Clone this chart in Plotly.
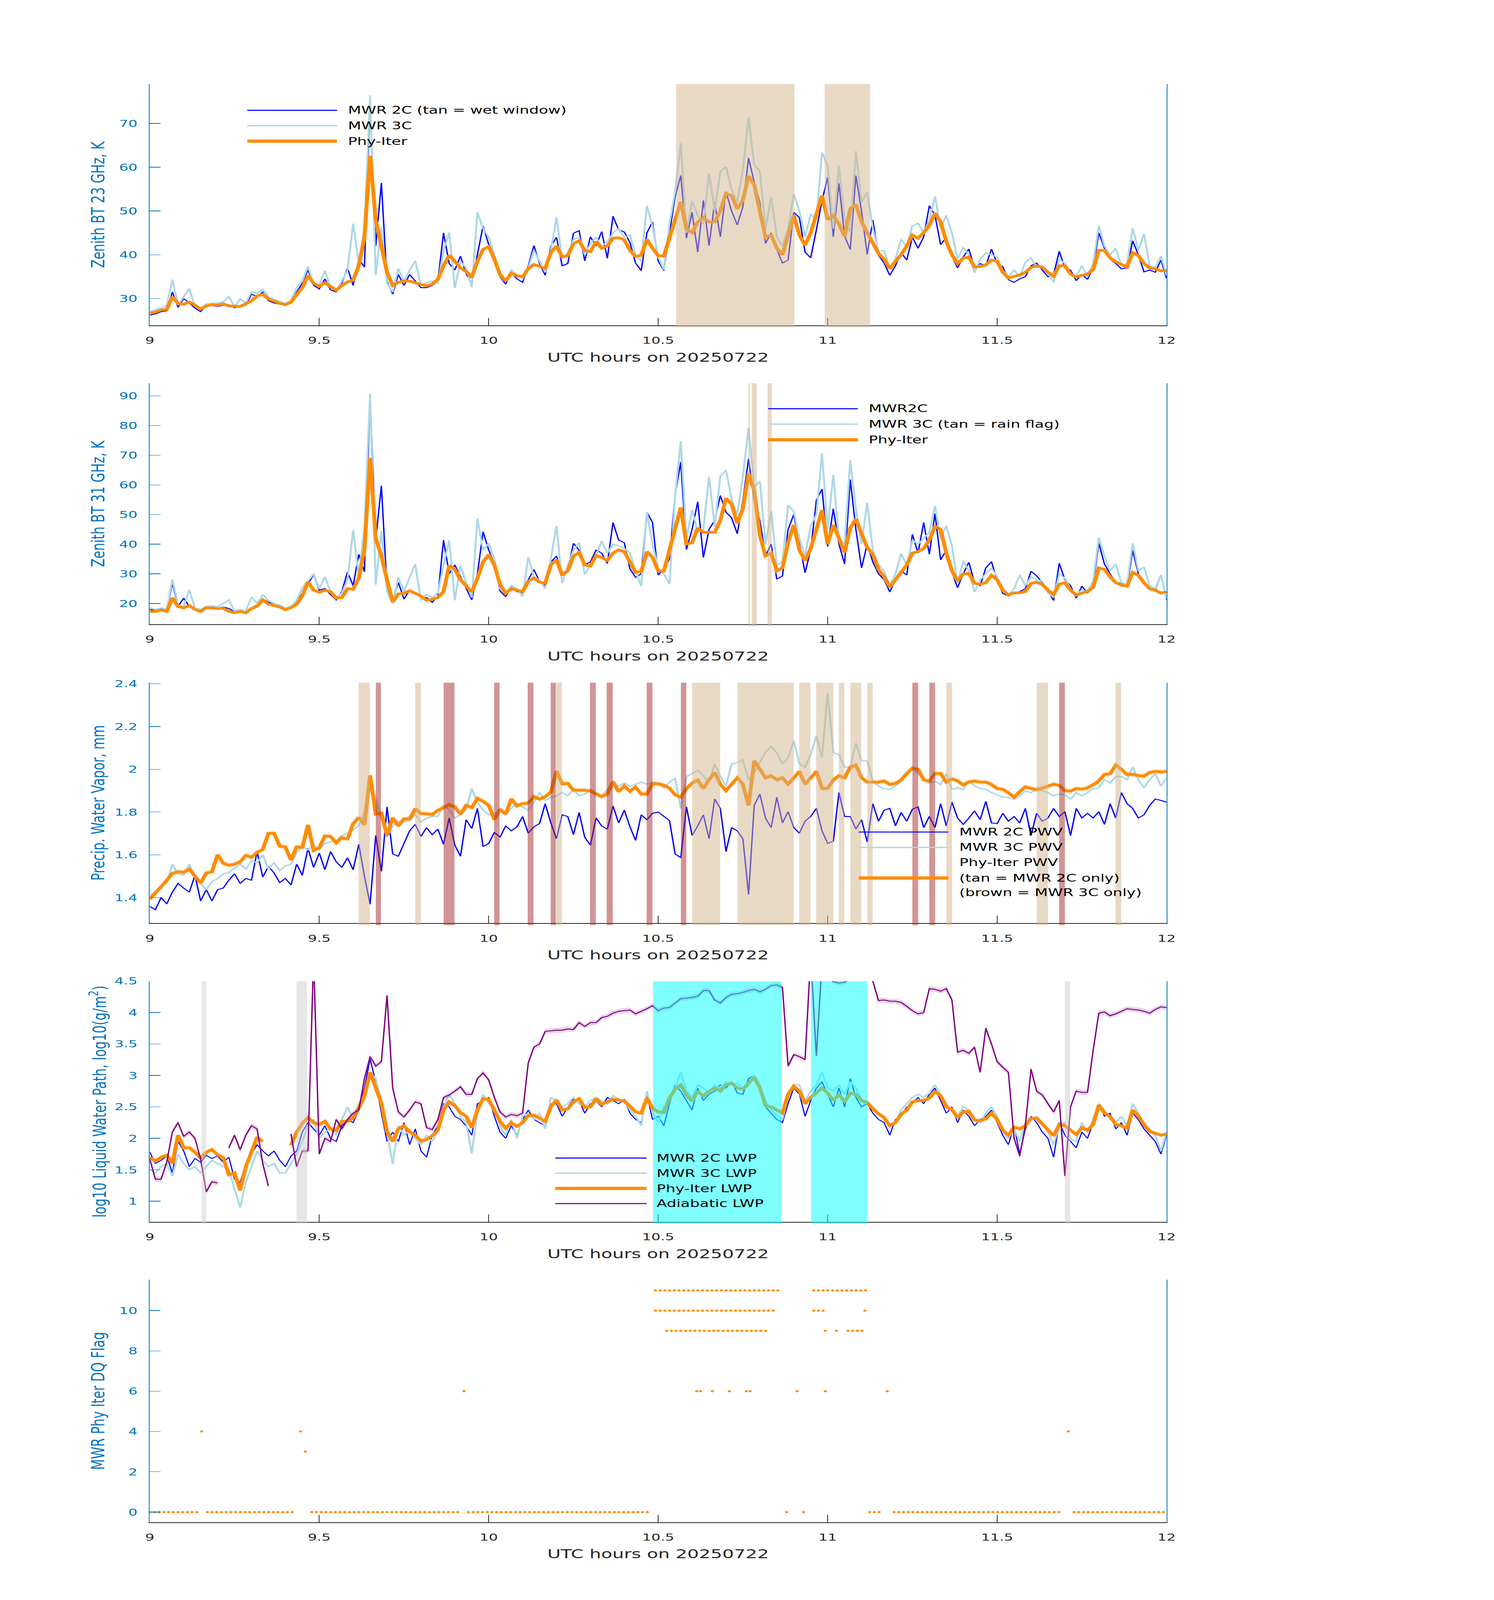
import numpy as np
import plotly.graph_objects as go

W, H = 3825, 6000
FONT = "DejaVu Sans"

# ---------------- time axis (1-minute samples, 09:00-12:00 UTC) ----------------
HOURS = 9 + np.arange(181) / 60.0

# ---------------- Panel 1: zenith BT 23 GHz (K) ----------------
BT23_2C = [26.2, 26.5, 27.0, 27.2, 31.5, 28.0, 30.0, 29.0, 27.8, 27.0,
           28.5, 28.4, 28.2, 28.5, 28.6, 27.9, 28.3, 28.5, 31.0, 30.5,
           31.5, 29.5, 29.0, 28.7, 28.4, 29.0, 31.5, 33.5, 36.6, 33.0,
           32.2, 34.5, 32.0, 31.5, 33.5, 37.0, 33.0, 39.0, 37.2, 75.2,
           42.0, 56.4, 34.0, 31.0, 35.5, 33.0, 35.5, 34.0, 32.5, 32.5,
           33.0, 34.0, 45.0, 38.0, 36.5, 39.7, 35.7, 33.5, 40.0, 46.6,
           42.3, 39.5, 35.0, 33.3, 36.0, 34.5, 33.7, 37.5, 42.1, 38.0,
           35.3, 42.0, 44.0, 37.5, 38.0, 44.9, 45.5, 38.6, 44.1, 42.0,
           45.3, 39.2, 48.8, 45.7, 45.2, 42.8, 38.1, 36.4, 45.0, 47.5,
           38.6, 36.4, 45.0, 53.3, 58.1, 43.8, 49.7, 40.6, 52.4, 42.1,
           51.9, 44.1, 54.4, 50.0, 46.8, 51.0, 62.1, 56.6, 52.0, 42.6,
           45.0, 41.2, 38.1, 38.8, 49.7, 48.5, 40.6, 39.3, 45.7, 52.3,
           57.7, 44.1, 56.3, 44.3, 41.2, 58.1, 50.0, 40.1, 47.9, 39.9,
           38.1, 35.3, 37.5, 40.5, 38.8, 44.0, 41.5, 44.1, 51.2, 49.0,
           42.3, 44.0, 39.7, 37.0, 39.5, 41.3, 37.0, 38.0, 37.5, 41.3,
           38.0, 37.3, 34.3, 33.7, 34.5, 35.0, 37.5, 38.1, 36.5, 35.0,
           35.5, 40.8, 37.0, 36.5, 34.1, 35.5, 34.4, 37.0, 45.0, 41.5,
           39.0, 38.0, 36.8, 37.0, 43.2, 40.0, 36.1, 36.5, 36.0, 38.8, 34.6]
BT23_3C = [27.0, 27.5, 27.8, 28.5, 34.3, 28.5, 30.4, 32.3, 28.2, 27.5,
           28.8, 28.9, 29.0, 29.2, 30.5, 28.1, 29.9, 29.0, 31.5, 31.2,
           32.1, 30.5, 29.8, 29.4, 28.8, 29.5, 32.5, 34.0, 37.3, 33.5,
           33.0, 36.4, 32.5, 31.8, 34.0, 36.5, 47.1, 38.0, 46.0, 76.4,
           35.3, 46.4, 33.5, 31.5, 36.8, 34.0, 36.5, 38.6, 33.0, 33.5,
           34.0, 33.5, 41.0, 45.1, 32.4, 38.5, 37.0, 32.6, 49.7, 46.0,
           44.0, 40.0, 35.5, 34.0, 36.5, 35.5, 34.5, 37.0, 41.0, 38.5,
           36.0, 41.0, 48.6, 39.0, 40.5, 43.5, 44.0, 40.0, 42.5, 44.0,
           42.0, 43.0, 45.0, 46.0, 44.0, 44.5, 40.0, 38.5, 51.2, 46.5,
           39.5, 36.6, 47.0, 54.4, 65.5, 45.0, 52.2, 49.0, 47.0, 58.6,
           50.0, 59.0, 60.1, 55.0, 52.0, 59.5, 71.3, 60.6, 59.0, 46.0,
           53.2, 44.0, 42.0, 46.0, 53.9, 50.0, 44.0, 49.3, 48.0, 63.3,
           60.3, 46.0, 60.3, 48.0, 45.0, 63.7, 52.0, 54.3, 46.0, 40.8,
           41.0, 37.0, 39.0, 43.5, 42.0, 46.6, 47.2, 45.0, 48.0, 53.3,
           46.0, 49.0, 45.0, 39.0, 41.7, 40.0, 35.9, 39.0, 40.4, 40.0,
           39.5, 36.5, 35.0, 36.5, 35.0, 38.3, 39.3, 37.0, 37.5, 36.0,
           33.7, 39.0, 38.0, 35.5, 35.0, 37.5, 35.0, 38.0, 46.6, 42.0,
           40.0, 41.5, 37.5, 38.0, 46.1, 41.0, 44.8, 37.5, 37.0, 39.7, 35.3]
BT23_PI = [26.7, 26.9, 27.4, 27.5, 30.4, 28.9, 28.7, 29.2, 28.5, 27.6,
           28.3, 28.6, 28.5, 28.8, 28.3, 28.2, 28.2, 28.8, 29.5, 30.6,
           31.0, 29.9, 29.4, 28.9, 28.6, 29.2, 30.9, 32.5, 35.2, 33.5,
           32.8, 33.6, 32.8, 31.9, 33.0, 33.8, 34.2, 37.5, 44.0, 62.6,
           48.0, 41.5, 36.0, 33.0, 33.7, 34.0, 34.0, 33.6, 33.2, 32.9,
           33.3, 34.4, 37.5, 39.9, 38.5, 37.0, 36.2, 34.8, 38.5, 41.2,
           41.9, 39.0, 35.5, 34.0, 35.8, 35.2, 35.0, 36.8, 37.8, 37.3,
           36.9, 40.5, 42.0, 39.5, 39.8, 42.5, 43.2, 41.0, 40.7, 43.0,
           41.5, 42.0, 43.8, 43.9, 43.4, 41.0, 39.6, 39.9, 43.5, 41.5,
           39.8, 39.7, 44.0, 48.0, 52.1, 46.0, 45.0, 47.5, 48.5, 47.5,
           47.5, 50.0, 54.0, 53.5, 50.5, 52.5, 58.0, 56.0, 49.5, 44.0,
           44.5, 41.5, 40.0, 44.5, 49.0, 44.5, 42.2, 45.0, 49.0, 53.5,
           48.0, 49.0, 47.0, 44.2, 50.5, 51.5, 47.5, 45.1, 42.5, 40.3,
           39.0, 36.8, 38.5, 40.0, 42.0, 44.5, 43.8, 45.0, 46.7, 49.5,
           47.5, 43.0, 40.0, 38.0, 39.2, 39.5, 37.2, 37.3, 37.7, 38.8,
           38.5, 36.0, 34.7, 35.0, 35.4, 36.0, 37.1, 37.5, 37.1, 36.0,
           35.1, 37.5, 37.5, 35.6, 34.9, 35.3, 35.6, 36.6, 41.0, 41.0,
           39.3, 38.4, 37.8, 37.2, 40.5, 39.8, 38.0, 37.0, 36.8, 36.3, 36.4]

# ---------------- Panel 2: zenith BT 31 GHz (K) ----------------
BT31_2C = [18.0, 17.8, 18.2, 17.6, 26.9, 19.0, 21.8, 19.0, 18.2, 17.8,
           18.5, 18.8, 18.5, 18.8, 18.3, 17.2, 17.5, 17.0, 18.5, 19.5,
           21.5, 20.5, 19.5, 19.0, 18.2, 18.8, 20.5, 23.5, 26.5, 29.7,
           24.5, 25.0, 23.0, 21.2, 24.0, 30.6, 26.0, 36.6, 30.7, 89.5,
           41.4, 59.7, 25.0, 21.0, 27.1, 21.5, 24.5, 23.5, 22.0, 22.0,
           20.4, 22.5, 41.4, 30.0, 33.0, 29.0, 25.0, 21.2, 30.0, 44.2,
           38.0, 33.5, 24.2, 22.3, 25.5, 24.0, 23.5, 28.0, 31.4, 27.5,
           26.0, 34.0, 36.0, 30.0, 31.5, 40.3, 38.0, 33.0, 34.0, 38.0,
           37.0, 33.5, 47.3, 41.4, 40.5, 31.7, 28.8, 30.0, 50.8, 47.3,
           29.6, 31.7, 35.0, 56.7, 67.7, 38.2, 45.0, 54.3, 35.5, 45.0,
           48.0, 56.4, 50.8, 48.9, 43.5, 55.0, 68.8, 54.3, 48.0, 36.0,
           40.0, 28.2, 29.3, 45.0, 50.0, 40.0, 30.4, 38.0, 54.8, 58.6,
           39.2, 52.0, 40.0, 33.3, 61.8, 45.0, 32.0, 40.0, 34.0, 30.0,
           28.0, 23.9, 28.0, 31.0, 29.6, 43.3, 37.0, 47.3, 36.6, 50.3,
           34.7, 38.0, 30.6, 25.3, 30.0, 33.9, 27.0, 26.0, 32.0, 34.1,
           27.7, 23.4, 22.5, 23.5, 24.0, 25.0, 30.9, 29.3, 27.0, 24.0,
           21.0, 33.6, 28.0, 26.0, 21.8, 25.8, 23.5, 26.0, 40.3, 33.3,
           30.0, 27.0, 26.9, 25.5, 37.9, 30.0, 27.5, 25.0, 24.5, 29.6, 21.2]
BT31_3C = [18.5, 18.0, 18.5, 18.0, 28.2, 19.5, 19.0, 24.6, 18.5, 18.0,
           19.0, 19.2, 19.0, 20.0, 21.2, 17.5, 18.0, 17.5, 22.1, 20.0,
           23.0, 21.0, 20.0, 19.5, 18.5, 19.0, 21.0, 25.2, 27.5, 30.0,
           25.0, 29.0, 24.0, 22.0, 23.5, 28.0, 44.8, 29.0, 46.0, 90.8,
           26.3, 44.3, 24.0, 19.9, 28.8, 24.0, 28.8, 33.3, 21.0, 23.0,
           22.0, 23.5, 33.0, 41.3, 21.1, 32.8, 27.0, 22.0, 48.7, 38.0,
           40.3, 35.0, 25.0, 23.0, 26.0, 25.0, 22.3, 35.7, 29.0, 28.0,
           25.0, 35.0, 46.2, 26.9, 33.0, 38.0, 40.6, 29.8, 33.0, 36.0,
           41.1, 37.0, 40.0, 39.5, 38.5, 37.0, 31.0, 25.8, 50.8, 40.0,
           32.0, 30.0, 26.6, 56.4, 74.7, 42.0, 51.6, 44.0, 45.0, 62.8,
           46.0, 62.9, 65.0, 55.0, 50.0, 62.9, 79.3, 59.1, 61.3, 40.0,
           51.1, 33.0, 34.0, 53.2, 51.0, 42.0, 36.0, 46.2, 50.0, 70.7,
           45.0, 63.4, 42.0, 40.0, 68.3, 52.0, 40.0, 54.0, 38.0, 33.0,
           31.0, 26.0, 30.0, 36.8, 33.0, 41.4, 40.0, 42.0, 44.0, 52.9,
           42.0, 46.2, 39.5, 27.0, 34.4, 31.0, 23.9, 28.0, 30.0, 32.0,
           29.0, 24.0, 23.0, 25.0, 29.6, 26.0, 29.0, 28.0, 27.5, 23.5,
           22.0, 30.0, 28.5, 25.0, 23.0, 24.5, 24.0, 27.5, 42.2, 36.0,
           31.0, 33.3, 27.0, 26.5, 40.3, 31.0, 32.3, 26.0, 25.0, 29.6, 21.5]
BT31_PI = [17.3, 17.3, 17.8, 17.3, 21.9, 19.0, 18.5, 19.3, 18.0, 17.3,
           18.6, 18.4, 18.3, 18.4, 17.3, 16.9, 17.3, 16.8, 18.3, 19.0,
           21.2, 19.8, 19.2, 18.8, 17.9, 18.6, 19.8, 22.5, 27.3, 24.5,
           23.8, 24.4, 24.0, 21.8, 22.0, 25.0, 24.8, 28.5, 38.0, 69.1,
           42.0, 36.0, 28.0, 20.5, 23.2, 23.4, 24.3, 23.5, 22.5, 21.1,
           21.4, 22.0, 24.0, 32.8, 31.5, 28.0, 26.0, 23.9, 28.5, 34.0,
           36.5, 33.0, 26.5, 23.4, 25.0, 24.5, 24.0, 27.5, 28.6, 27.2,
           26.8, 33.0, 34.8, 29.5, 31.0, 36.0, 37.2, 33.0, 32.6, 36.2,
           35.5, 34.5, 37.0, 38.1, 37.5, 34.0, 30.5, 30.8, 37.5, 35.5,
           31.0, 30.9, 38.0, 45.0, 52.4, 40.0, 40.5, 45.5, 44.0, 44.0,
           44.0, 48.0, 55.5, 53.5, 47.0, 52.0, 64.0, 58.0, 43.0, 36.0,
           37.0, 31.0, 32.0, 40.5, 46.5, 38.0, 34.4, 38.5, 45.0, 51.5,
           40.0, 46.5, 42.0, 37.2, 45.5, 48.5, 43.5, 39.0, 36.5, 31.5,
           29.0, 25.5, 28.0, 30.5, 33.0, 37.0, 37.5, 38.5, 41.5, 46.0,
           45.0, 37.0, 31.0, 27.5, 30.0, 30.2, 26.8, 26.5, 27.0, 29.5,
           28.0, 24.5, 22.9, 23.6, 23.6, 24.0, 26.8, 27.2, 26.4, 24.5,
           23.0, 26.5, 27.0, 24.5, 22.8, 23.5, 24.0, 25.5, 32.0, 31.5,
           29.0, 27.0, 26.2, 25.8, 30.5, 29.5, 27.0, 25.0, 24.5, 23.5, 23.9]

# ---------------- Panel 3: precipitable water vapor (mm) ----------------
PWV_2C = [1.358, 1.343, 1.400, 1.370, 1.425, 1.466, 1.444, 1.425, 1.504, 1.384,
          1.437, 1.384, 1.437, 1.444, 1.481, 1.511, 1.466, 1.489, 1.481, 1.615,
          1.496, 1.545, 1.515, 1.470, 1.489, 1.459, 1.556, 1.504, 1.630, 1.541,
          1.608, 1.530, 1.615, 1.567, 1.541, 1.586, 1.530, 1.649, 1.500, 1.369,
          1.690, 1.522, 1.824, 1.604, 1.593, 1.653, 1.712, 1.742, 1.686, 1.727,
          1.694, 1.720, 1.649, 1.772, 1.645, 1.593, 1.764, 1.723, 1.817, 1.638,
          1.653, 1.705, 1.682, 1.735, 1.712, 1.731, 1.779, 1.701, 1.731, 1.746,
          1.839, 1.749, 1.675, 1.787, 1.779, 1.694, 1.798, 1.682, 1.645, 1.772,
          1.735, 1.720, 1.828, 1.749, 1.809, 1.731, 1.667, 1.787, 1.764, 1.794,
          1.800, 1.780, 1.760, 1.604, 1.586, 1.824, 1.690, 1.735, 1.787, 1.675,
          1.861, 1.817, 1.615, 1.727, 1.712, 1.675, 1.414, 1.831, 1.884, 1.772,
          1.727, 1.869, 1.749, 1.802, 1.727, 1.701, 1.757, 1.779, 1.817, 1.712,
          1.653, 1.664, 1.891, 1.779, 1.779, 1.720, 1.764, 1.660, 1.839, 1.757,
          1.809, 1.817, 1.735, 1.798, 1.757, 1.813, 1.824, 1.727, 1.779, 1.727,
          1.839, 1.735, 1.846, 1.772, 1.742, 1.772, 1.805, 1.764, 1.850, 1.749,
          1.746, 1.794, 1.757, 1.779, 1.749, 1.817, 1.690, 1.794, 1.757, 1.772,
          1.817, 1.779, 1.802, 1.690, 1.817, 1.772, 1.794, 1.772, 1.802, 1.742,
          1.839, 1.772, 1.891, 1.839, 1.817, 1.772, 1.787, 1.831, 1.861, 1.854, 1.846]
PWV_3C = [1.407, 1.430, 1.450, 1.470, 1.556, 1.510, 1.506, 1.556, 1.500, 1.466,
          1.437, 1.474, 1.489, 1.510, 1.518, 1.537, 1.556, 1.533, 1.571, 1.563,
          1.600, 1.533, 1.563, 1.526, 1.548, 1.556, 1.608, 1.638, 1.623, 1.645,
          1.623, 1.653, 1.660, 1.667, 1.690, 1.700, 1.716, 1.735, 1.800, 1.951,
          1.861, 1.772, 1.682, 1.735, 1.757, 1.753, 1.760, 1.787, 1.753, 1.772,
          1.779, 1.780, 1.831, 1.809, 1.772, 1.787, 1.809, 1.910, 1.846, 1.809,
          1.787, 1.794, 1.802, 1.794, 1.817, 1.839, 1.824, 1.809, 1.846, 1.891,
          1.854, 1.869, 1.876, 1.891, 1.876, 1.906, 1.876, 1.884, 1.906, 1.891,
          1.876, 1.906, 1.943, 1.921, 1.936, 1.920, 1.930, 1.940, 1.930, 1.940,
          1.935, 1.913, 1.940, 1.958, 1.817, 1.966, 1.980, 1.995, 1.970, 1.940,
          2.025, 1.966, 1.921, 2.025, 2.030, 2.044, 1.951, 1.980, 2.033, 2.080,
          2.107, 2.077, 2.025, 2.055, 2.133, 2.025, 2.010, 2.070, 2.156, 2.055,
          2.357, 2.077, 2.070, 2.010, 2.010, 2.122, 2.040, 2.040, 1.943, 1.921,
          1.910, 1.906, 1.921, 1.943, 1.980, 2.010, 1.980, 1.951, 1.936, 1.943,
          1.928, 1.980, 1.906, 1.913, 1.906, 1.943, 1.921, 1.910, 1.906, 1.891,
          1.880, 1.869, 1.869, 1.858, 1.876, 1.898, 1.891, 1.906, 1.900, 1.891,
          1.876, 1.884, 1.880, 1.861, 1.891, 1.876, 1.891, 1.910, 1.913, 1.951,
          1.936, 1.966, 1.966, 1.951, 2.010, 1.951, 1.913, 1.951, 1.980, 1.921, 1.958]
PWV_PI = [1.392, 1.420, 1.450, 1.480, 1.513, 1.521, 1.518, 1.533, 1.500, 1.468,
          1.515, 1.520, 1.600, 1.560, 1.551, 1.556, 1.567, 1.597, 1.588, 1.612,
          1.624, 1.700, 1.701, 1.640, 1.637, 1.575, 1.637, 1.634, 1.740, 1.620,
          1.633, 1.688, 1.686, 1.656, 1.680, 1.674, 1.745, 1.775, 1.740, 1.972,
          1.790, 1.795, 1.690, 1.773, 1.735, 1.768, 1.768, 1.815, 1.792, 1.792,
          1.788, 1.808, 1.820, 1.834, 1.824, 1.790, 1.831, 1.820, 1.864, 1.850,
          1.831, 1.764, 1.813, 1.790, 1.862, 1.828, 1.839, 1.841, 1.872, 1.860,
          1.872, 1.893, 1.992, 1.932, 1.934, 1.902, 1.902, 1.902, 1.898, 1.885,
          1.872, 1.884, 1.942, 1.895, 1.922, 1.897, 1.917, 1.884, 1.884, 1.932,
          1.932, 1.925, 1.912, 1.880, 1.870, 1.910, 1.935, 1.950, 1.910, 1.950,
          1.985, 1.930, 1.900, 1.930, 1.960, 1.930, 1.830, 2.040, 2.000, 1.960,
          1.970, 1.950, 1.960, 1.930, 1.960, 1.990, 1.930, 1.960, 1.990, 1.910,
          1.910, 1.950, 1.970, 1.960, 2.010, 2.020, 1.960, 1.940, 1.940, 1.940,
          1.945, 1.929, 1.934, 1.950, 1.980, 2.005, 2.000, 1.950, 1.945, 1.980,
          1.980, 1.940, 1.955, 1.945, 1.927, 1.940, 1.945, 1.940, 1.940, 1.929,
          1.910, 1.906, 1.890, 1.870, 1.895, 1.918, 1.910, 1.905, 1.912, 1.920,
          1.930, 1.925, 1.900, 1.898, 1.910, 1.907, 1.913, 1.927, 1.945, 1.976,
          1.978, 2.020, 2.000, 1.975, 1.976, 1.970, 1.968, 1.985, 1.990, 1.987, 1.990]
PWV_PI_UNC = 0.012

# ---------------- Panel 4: log10 liquid water path ----------------
LWP_2C = [1.78, 1.60, 1.65, 1.72, 1.45, 1.95, 1.80, 1.55, 1.68, 1.62,
          1.73, 1.68, 1.72, 1.62, 1.70, 1.35, 1.30, 1.60, 1.75, 1.90,
          1.80, 1.72, 1.80, 1.65, 1.55, 1.72, 1.80, 2.10, 2.25, 2.15,
          2.05, 2.20, 2.00, 1.95, 2.20, 2.30, 2.25, 2.45, 2.80, 3.26,
          2.90, 2.40, 1.95, 2.10, 1.95, 2.25, 1.90, 2.15, 1.80, 1.70,
          2.05, 2.20, 2.55, 2.50, 2.35, 2.30, 2.20, 2.05, 2.55, 2.60,
          2.65, 2.35, 2.10, 2.00, 2.20, 2.05, 2.30, 2.45, 2.30, 2.25,
          2.20, 2.55, 2.55, 2.35, 2.50, 2.62, 2.60, 2.40, 2.55, 2.60,
          2.50, 2.65, 2.60, 2.55, 2.62, 2.40, 2.30, 2.25, 2.70, 2.30,
          2.35, 2.20, 2.55, 2.85, 2.75, 2.60, 2.45, 2.80, 2.60, 2.70,
          2.75, 2.85, 2.80, 2.90, 2.72, 2.70, 2.95, 3.00, 2.75, 2.50,
          2.40, 2.30, 2.25, 2.55, 2.80, 2.70, 2.35, 2.60, 2.80, 2.90,
          2.70, 2.50, 2.80, 2.50, 2.95, 2.65, 2.50, 2.55, 2.40, 2.30,
          2.25, 2.05, 2.30, 2.35, 2.50, 2.55, 2.65, 2.55, 2.70, 2.80,
          2.60, 2.40, 2.50, 2.25, 2.45, 2.35, 2.20, 2.30, 2.35, 2.45,
          2.25, 2.05, 1.90, 2.20, 1.75, 2.15, 2.35, 2.25, 2.10, 2.00,
          1.70, 2.25, 2.05, 1.95, 1.85, 2.10, 2.00, 2.25, 2.55, 2.35,
          2.40, 2.15, 2.25, 2.05, 2.40, 2.30, 2.15, 2.05, 1.95, 1.75, 2.05]
LWP_3C = [1.50, 1.45, 1.55, 1.60, 1.40, 1.75, 1.60, 1.50, 1.55, 1.45,
          1.55, 1.65, 1.60, 1.55, 1.50, 1.20, 0.90, 1.30, 1.55, 1.80,
          1.65, 1.55, 1.60, 1.45, 1.45, 1.60, 1.75, 1.95, 2.20, 2.30,
          2.00, 2.10, 2.15, 2.05, 2.30, 2.50, 2.30, 2.55, 2.70, 3.05,
          2.95, 2.60, 2.10, 1.59, 2.20, 2.05, 2.15, 2.00, 1.90, 2.05,
          1.95, 2.10, 2.50, 2.70, 2.55, 2.35, 2.25, 1.76, 2.40, 2.70,
          2.55, 2.50, 2.20, 2.05, 2.30, 2.00, 2.35, 2.40, 2.30, 2.40,
          2.15, 2.65, 2.60, 2.50, 2.55, 2.65, 2.55, 2.50, 2.60, 2.65,
          2.60, 2.55, 2.68, 2.62, 2.60, 2.45, 2.35, 2.20, 2.75, 2.40,
          2.25, 2.50, 2.60, 2.80, 3.05, 2.75, 2.65, 2.85, 2.80, 2.72,
          2.85, 2.80, 2.90, 2.85, 2.88, 2.80, 2.90, 3.00, 2.85, 2.60,
          2.45, 2.38, 2.30, 2.65, 2.85, 2.85, 2.60, 2.75, 2.85, 3.05,
          2.80, 2.75, 2.85, 2.70, 2.90, 2.80, 2.62, 2.60, 2.50, 2.40,
          2.35, 2.20, 2.25, 2.45, 2.55, 2.65, 2.70, 2.65, 2.72, 2.85,
          2.70, 2.55, 2.45, 2.35, 2.50, 2.45, 2.30, 2.25, 2.40, 2.50,
          2.35, 2.10, 2.00, 2.15, 1.95, 2.25, 2.30, 2.35, 2.25, 2.10,
          1.90, 2.20, 2.25, 2.00, 1.95, 2.25, 2.10, 2.30, 2.55, 2.45,
          2.30, 2.25, 2.35, 2.20, 2.55, 2.40, 2.20, 2.15, 2.05, 1.80, 2.10]
LWP_PI = [1.696, 1.64, 1.70, 1.73, 1.60, 2.05, 1.85, 1.85, 1.78, 1.69,
          1.78, 1.82, 1.74, 1.696, 1.42, 1.45, 1.17, 1.55, 1.78, 2.02,
          1.95, None, None, None, None, 1.89, 2.10, 2.24, 2.33, 2.25,
          2.22, 2.27, 2.15, 2.12, 2.27, 2.27, 2.32, 2.48, 2.67, 3.05,
          2.80, 2.56, 2.10, 1.95, 2.15, 2.20, 2.10, 2.05, 1.96, 1.98,
          2.04, 2.13, 2.45, 2.58, 2.52, 2.41, 2.35, 2.17, 2.45, 2.63,
          2.62, 2.44, 2.27, 2.16, 2.25, 2.19, 2.25, 2.36, 2.37, 2.32,
          2.27, 2.50, 2.61, 2.45, 2.47, 2.58, 2.63, 2.49, 2.50, 2.63,
          2.54, 2.58, 2.62, 2.61, 2.59, 2.51, 2.42, 2.40, 2.64, 2.48,
          2.42, 2.41, 2.64, 2.78, 2.85, 2.69, 2.59, 2.75, 2.67, 2.75,
          2.80, 2.75, 2.85, 2.88, 2.80, 2.78, 2.88, 2.97, 2.80, 2.52,
          2.50, 2.45, 2.40, 2.70, 2.83, 2.75, 2.55, 2.65, 2.72, 2.80,
          2.72, 2.60, 2.70, 2.58, 2.72, 2.70, 2.60, 2.56, 2.47, 2.39,
          2.33, 2.20, 2.25, 2.38, 2.45, 2.58, 2.60, 2.60, 2.64, 2.74,
          2.68, 2.50, 2.46, 2.33, 2.42, 2.43, 2.29, 2.28, 2.31, 2.40,
          2.30, 2.13, 2.05, 2.18, 2.15, 2.20, 2.32, 2.32, 2.23, 2.14,
          2.04, 2.22, 2.20, 2.13, 2.06, 2.17, 2.13, 2.22, 2.53, 2.40,
          2.35, 2.22, 2.20, 2.16, 2.45, 2.36, 2.22, 2.11, 2.08, 2.05, 2.07]
LWP_ADIA = [1.67, 1.35, 1.35, 1.62, 2.10, 2.25, 2.03, 2.10, 2.00, 1.67,
            1.15, 1.31, 1.29, None, 1.85, 2.05, 1.82, 2.05, 2.20, 2.15,
            1.60, 1.24, None, None, None, 2.07, 1.55, 1.80, 1.80, 4.90,
            1.75, 2.00, 1.95, 2.30, 2.15, 2.30, 2.40, 2.45, 2.95, 3.30,
            3.15, 3.22, 4.27, 2.80, 2.42, 2.34, 2.45, 2.58, 2.55, 2.17,
            2.14, 2.30, 2.65, 2.69, 2.75, 2.82, 2.70, 2.70, 2.95, 3.04,
            2.93, 2.65, 2.42, 2.34, 2.38, 2.36, 2.40, 3.20, 3.45, 3.50,
            3.70, 3.71, 3.72, 3.72, 3.74, 3.73, 3.84, 3.78, 3.84, 3.84,
            3.92, 3.94, 3.99, 4.02, 4.03, 4.04, 3.98, 4.02, 4.06, 4.11,
            4.03, 4.07, 4.08, 4.15, 4.22, 4.23, 4.24, 4.26, 4.35, 4.35,
            4.20, 4.15, 4.24, 4.29, 4.30, 4.32, 4.35, 4.37, 4.33, 4.37,
            4.43, 4.44, 4.40, 3.15, 3.33, 3.30, 3.25, 4.90, 3.31, 4.80,
            4.60, 4.49, 4.47, 4.48, 4.55, 4.60, 4.70, 4.60, 4.50, 4.19,
            4.20, 4.18, 4.18, 4.16, 4.10, 4.03, 3.98, 4.00, 4.38, 4.37,
            4.34, 4.38, 4.20, 3.37, 3.40, 3.35, 3.45, 3.05, 3.75, 3.50,
            3.22, 3.13, 3.05, 2.00, 1.72, 2.20, 3.10, 2.75, 2.69, 2.55,
            2.42, 2.60, 1.40, 2.50, 2.75, 2.73, 2.73, 3.40, 3.99, 4.01,
            3.95, 3.98, 4.02, 4.06, 4.05, 4.04, 4.02, 3.99, 4.05, 4.09, 4.08]
LWP_PI_UNC = 0.035
LWP_ADIA_UNC = 0.04

# ---------------- Panel 5: Phy-Iter DQ flags ----------------
DQ_SAMPLE_H = 50.0 / 3600.0  # sampling interval of the flag record
DQ_RUNS = {  # flag value -> list of (start hour, end hour) runs
    0: [(9.000, 9.145), (9.170, 9.430), (9.478, 9.915), (9.940, 10.478),
        (10.879, 10.890), (10.929, 10.940), (11.124, 11.163), (11.196, 11.686),
        (11.727, 12.000)],
    11: [(10.492, 10.862), (10.959, 11.112)],
    10: [(10.492, 10.845), (10.959, 10.993), (11.110, 11.110)],
    9: [(10.525, 10.826), (10.993, 10.993), (11.026, 11.026), (11.060, 11.110)],
}
DQ_SINGLE = {  # flag value -> isolated times
    6: [9.927, 10.614, 10.625, 10.660, 10.710, 10.760, 10.771, 10.910, 10.993, 11.176],
    4: [9.153, 9.445, 11.710],
    3: [9.459],
}

# ---------------- shaded intervals ----------------
P1_TAN = [(10.553, 10.902), (10.991, 11.125)]
P2_TAN = [(10.766, 10.771), (10.776, 10.791), (10.823, 10.835)]
P3_TAN = [(9.616, 9.649), (9.783, 9.800), (10.199, 10.216), (10.600, 10.683),
          (10.734, 10.900), (10.916, 10.949), (10.966, 11.017), (11.033, 11.049),
          (11.067, 11.099), (11.117, 11.133), (11.350, 11.367), (11.617, 11.650),
          (11.849, 11.866)]
P3_BROWN = [(9.667, 9.682), (9.867, 9.899), (10.016, 10.032), (10.115, 10.132),
            (10.183, 10.198), (10.299, 10.316), (10.348, 10.366), (10.466, 10.483),
            (10.567, 10.583), (11.250, 11.267), (11.300, 11.317), (11.683, 11.700)]
P4_GRAY = [(9.153, 9.166), (9.433, 9.464), (11.700, 11.716)]
P4_CYAN = [(10.485, 10.864), (10.951, 11.117)]

for arr in (BT23_2C, BT23_3C, BT23_PI, BT31_2C, BT31_3C, BT31_PI, PWV_2C, PWV_3C,
            PWV_PI, LWP_2C, LWP_3C, LWP_PI, LWP_ADIA):
    assert len(arr) == 181, len(arr)

# ---------------- styling ----------------
BLUE, LBLUE, ORANGE, PURPLE = "#0000FF", "#ADD8E6", "#FF8C00", "#800080"
AXBLUE, DARK = "#0072BD", "#262626"
TAN = "rgba(210,180,140,0.5)"
BROWN = "rgba(165,42,42,0.5)"
GRAY = "rgba(200,200,200,0.45)"
CYAN = "rgba(0,255,255,0.5)"

X0PX, X1PX = 375, 3003
PANELS = [(295, 1203), (1421, 2328), (2548, 3453), (3671, 4577), (4795, 5707)]
YRANGES = [[23.9, 79.0], [13.0, 94.3], [1.28, 2.405], [0.672, 4.5], [-0.5, 11.53]]
YTICKS = [
    ([30, 40, 50, 60, 70], ["30", "40", "50", "60", "70"]),
    ([20, 30, 40, 50, 60, 70, 80, 90], ["20", "30", "40", "50", "60", "70", "80", "90"]),
    ([1.4, 1.6, 1.8, 2.0, 2.2, 2.4], ["1.4", "1.6", "1.8", "2", "2.2", "2.4"]),
    ([1, 1.5, 2, 2.5, 3, 3.5, 4, 4.5], ["1", "1.5", "2", "2.5", "3", "3.5", "4", "4.5"]),
    ([0, 2, 4, 6, 8, 10], ["0", "2", "4", "6", "8", "10"]),
]
YTITLES = ["Zenith BT 23 GHz, K", "Zenith BT 31 GHz, K", "Precip. Water Vapor, mm",
           "log10 Liquid Water Path, log10(g/m<sup>2</sup>)", "MWR Phy Iter DQ Flag"]
XTICKV = [9, 9.5, 10, 10.5, 11, 11.5, 12]
XTICKT = ["9", "9.5", "10", "10.5", "11", "11.5", "12"]


def px_x(p):
    return p / W


def px_y(p):
    return 1 - p / H


def ax(i, kind):
    return kind if i == 1 else f"{kind}{i}"


fig = go.Figure()


def line(i, y, color, width):
    fig.add_trace(go.Scatter(x=HOURS, y=y, mode="lines", xaxis=ax(i, "x"), yaxis=ax(i, "y"),
                             line=dict(color=color, width=width), showlegend=False,
                             hoverinfo="skip", connectgaps=False))


def band(i, y, unc, fillcolor):
    """Uncertainty envelope, one closed polygon per contiguous data segment."""
    arr = np.array(y, dtype=float)
    idx = np.where(~np.isnan(arr))[0]
    segs = np.split(idx, np.where(np.diff(idx) > 1)[0] + 1)
    for s in segs:
        if len(s) < 2:
            continue
        xs = HOURS[s]
        xpoly = np.concatenate([xs, xs[::-1]])
        ypoly = np.concatenate([arr[s] + unc, (arr[s] - unc)[::-1]])
        fig.add_trace(go.Scatter(x=xpoly, y=ypoly, mode="lines", xaxis=ax(i, "x"),
                                 yaxis=ax(i, "y"), fill="toself", fillcolor=fillcolor,
                                 line=dict(width=0, color=fillcolor), showlegend=False,
                                 hoverinfo="skip"))


# Panel 1
line(1, BT23_2C, BLUE, 3.5)
line(1, BT23_3C, LBLUE, 5)
line(1, BT23_PI, ORANGE, 10)
# Panel 2
line(2, BT31_2C, BLUE, 3.5)
line(2, BT31_3C, LBLUE, 5)
line(2, BT31_PI, ORANGE, 10)
# Panel 3
line(3, PWV_2C, BLUE, 3.5)
line(3, PWV_3C, LBLUE, 5)
band(3, PWV_PI, PWV_PI_UNC, "rgba(255,140,0,0.22)")
line(3, PWV_PI, ORANGE, 10)
# Panel 4
line(4, LWP_2C, BLUE, 3)
line(4, LWP_3C, LBLUE, 5)
band(4, LWP_PI, LWP_PI_UNC, "rgba(255,140,0,0.22)")
line(4, LWP_PI, ORANGE, 10)
band(4, LWP_ADIA, LWP_ADIA_UNC, "rgba(128,0,128,0.18)")
line(4, LWP_ADIA, PURPLE, 3.5)

# Panel 5: DQ flags
dq_t, dq_v = [], []
for val, runs in DQ_RUNS.items():
    for a, b in runs:
        ts = np.arange(a, b + 1e-9, DQ_SAMPLE_H)
        dq_t.extend(ts.tolist())
        dq_v.extend([val] * len(ts))
for val, times in DQ_SINGLE.items():
    dq_t.extend(times)
    dq_v.extend([val] * len(times))
fig.add_trace(go.Scatter(x=dq_t, y=dq_v, mode="markers", xaxis="x5", yaxis="y5",
                         marker=dict(color=ORANGE, size=8, line=dict(width=0)),
                         showlegend=False, hoverinfo="skip"))

# ---------------- axes ----------------
layout = dict(width=W, height=H, autosize=False, margin=dict(l=0, r=0, t=0, b=0, pad=0),
              paper_bgcolor="white", plot_bgcolor="white", showlegend=False,
              font=dict(family=FONT))
for i, (top, bot) in enumerate(PANELS, start=1):
    layout["xaxis" if i == 1 else f"xaxis{i}"] = dict(
        domain=[px_x(X0PX), px_x(X1PX)], anchor=ax(i, "y"), range=[9, 12],
        tickvals=XTICKV, ticktext=XTICKT, ticks="inside", ticklen=28, tickwidth=2,
        tickcolor=DARK, showline=True, linecolor=DARK, linewidth=3, mirror=False,
        showgrid=False, zeroline=False, ticklabelstandoff=22,
        tickfont=dict(family=FONT, size=37, color=DARK))
    tv, tt = YTICKS[i - 1]
    layout["yaxis" if i == 1 else f"yaxis{i}"] = dict(
        domain=[px_y(bot), px_y(top)], anchor=ax(i, "x"), range=YRANGES[i - 1],
        tickvals=tv, ticktext=tt, ticks="inside", ticklen=28, tickwidth=2,
        tickcolor=AXBLUE, showline=True, linecolor=AXBLUE, linewidth=2, mirror=True,
        showgrid=False, zeroline=False, ticklabelstandoff=22,
        tickfont=dict(family=FONT, size=37, color=AXBLUE))
fig.update_layout(**layout)

# ---------------- shaded intervals (drawn over the lines) ----------------
shapes = []


def add_bands(i, spans, color):
    for a, b in spans:
        shapes.append(dict(type="rect", xref=ax(i, "x"), yref=f"{ax(i, 'y')} domain",
                           x0=a, x1=b, y0=-0.008, y1=1, fillcolor=color,
                           line=dict(width=0), layer="above"))


add_bands(1, P1_TAN, TAN)
add_bands(2, P2_TAN, TAN)
add_bands(3, P3_TAN, TAN)
add_bands(3, P3_BROWN, BROWN)
add_bands(4, P4_GRAY, GRAY)
add_bands(4, P4_CYAN, CYAN)

# ---------------- titles ----------------
annotations = []
for i, (top, bot) in enumerate(PANELS, start=1):
    annotations.append(dict(text=YTITLES[i - 1], xref="paper", yref="paper",
                            x=px_x(241), y=px_y((top + bot) / 2), textangle=-90,
                            xanchor="center", yanchor="middle", showarrow=False,
                            font=dict(family=FONT, size=47, color=AXBLUE)))
    annotations.append(dict(text="UTC hours on 20250722", xref="paper", yref="paper",
                            x=px_x((X0PX + X1PX) / 2), y=px_y(bot + 120),
                            xanchor="center", yanchor="middle", showarrow=False,
                            font=dict(family=FONT, size=47, color=DARK)))

# ---------------- legends (drawn by hand, one per panel) ----------------
LEGENDS = [
    (627, 859, 885, [(394, BLUE, 4, "MWR 2C (tan = wet window)"),
                     (452, LBLUE, 5, "MWR 3C"),
                     (510, ORANGE, 12, "Phy-Iter")]),
    (1973, 2205, 2231, [(1517, BLUE, 4, "MWR2C"),
                        (1575, LBLUE, 5, "MWR 3C (tan = rain flag)"),
                        (1634, ORANGE, 12, "Phy-Iter")]),
    (2207, 2439, 2465, [(3110, BLUE, 4, "MWR 2C PWV"),
                        (3168, LBLUE, 5, "MWR 3C PWV"),
                        (3283, ORANGE, 12, None)]),
    (1423, 1659, 1683, [(4337, BLUE, 4, "MWR 2C LWP"),
                        (4394, LBLUE, 5, "MWR 3C LWP"),
                        (4451, ORANGE, 12, "Phy-Iter LWP"),
                        (4508, PURPLE, 4, "Adiabatic LWP")]),
]
for x0, x1, xt, rows in LEGENDS:
    for yy, col, wd, label in rows:
        shapes.append(dict(type="line", xref="paper", yref="paper",
                           x0=px_x(x0), x1=px_x(x1), y0=px_y(yy), y1=px_y(yy),
                           line=dict(color=col, width=wd), layer="above"))
        if label:
            annotations.append(dict(text=label, xref="paper", yref="paper",
                                    x=px_x(xt), y=px_y(yy), xanchor="left", yanchor="middle",
                                    showarrow=False, font=dict(family=FONT, size=39, color="#000000")))
for yy, label in [(3225, "Phy-Iter PWV"), (3283, "(tan = MWR 2C only)"),
                  (3338, "(brown = MWR 3C only)")]:
    annotations.append(dict(text=label, xref="paper", yref="paper",
                            x=px_x(2465), y=px_y(yy), xanchor="left", yanchor="middle",
                            showarrow=False, font=dict(family=FONT, size=39, color="#000000")))

fig.update_layout(shapes=shapes, annotations=annotations)

# The 3825x6000 figure is scaled as a whole to fit the visible browser window
# (identity when the window really is 3825x6000), with no page margins.
POST = ("var gd=document.getElementById('{plot_id}');"
        "var de=document.documentElement, bd=document.body;"
        "de.style.margin='0';de.style.padding='0';de.style.overflow='hidden';"
        "bd.style.margin='0';bd.style.padding='0';bd.style.overflow='hidden';"
        "function fitFig(){var sx=window.innerWidth/%d, sy=window.innerHeight/%d;"
        "gd.style.transformOrigin='0 0';"
        "gd.style.transform='scale('+sx+','+sy+')';}"
        "fitFig();window.addEventListener('resize', fitFig);" % (W, H))
fig.write_html("out.html", config={"displayModeBar": False}, post_script=POST)
